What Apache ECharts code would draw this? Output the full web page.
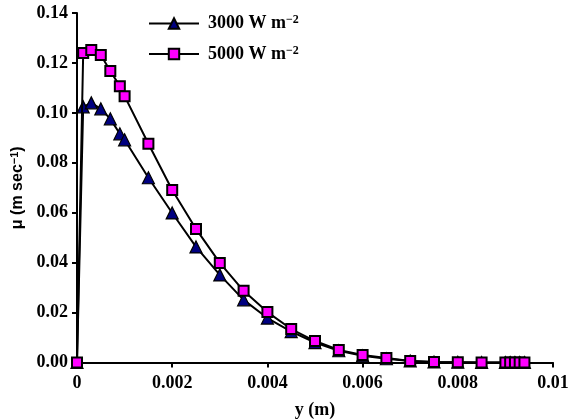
<!DOCTYPE html>
<html>
<head>
<meta charset="utf-8">
<script src="https://cdn.jsdelivr.net/npm/echarts@6/dist/echarts.min.js"></script>
<style>
html,body{margin:0;padding:0;background:#fff;}
#c{width:571px;height:420px;}
</style>
</head>
<body>
<div id="c"></div>
<script>
var xValues = [0, 0.00013, 0.0003, 0.0005, 0.0007, 0.0009, 0.001, 0.0015, 0.002, 0.0025, 0.003, 0.0035, 0.004, 0.0045, 0.005, 0.0055, 0.006, 0.0065, 0.007, 0.0075, 0.008, 0.0085, 0.009, 0.0091, 0.0092, 0.0093, 0.0094];
var mu3000 = [0, 0.1024, 0.1040, 0.1016, 0.0976, 0.0916, 0.0892, 0.0740, 0.0599, 0.0463, 0.0351, 0.0251, 0.0178, 0.0124, 0.0080, 0.0047, 0.0027, 0.0015, 0.0006, 0.0002, 0.0001, 0, 0, 0, 0, 0, 0];
var mu5000 = [0, 0.1240, 0.1252, 0.1232, 0.1168, 0.1107, 0.1067, 0.0876, 0.0691, 0.0535, 0.0399, 0.0287, 0.0202, 0.0134, 0.0086, 0.0050, 0.0030, 0.0018, 0.0006, 0.0002, 0.0001, 0, 0, 0, 0, 0, 0];
var seriesNames = ['3000 W m', '5000 W m'];
var supText = '\u22122';

function pairs(xs, ys) {
  return xs.map(function (x, i) { return [x, ys[i]]; });
}

var serif = 'Liberation Serif';
var chart = echarts.init(document.getElementById('c'), null, {renderer: 'canvas'});
chart.setOption({
  backgroundColor: '#fff',
  animation: false,
  grid: {left: 77, right: 18, top: 13, bottom: 57.5, containLabel: false, outerBoundsMode: 'none'},
  legend: {
    orient: 'vertical',
    left: 148,
    top: 14,
    padding: 0,
    itemWidth: 50,
    itemHeight: 13,
    itemGap: 12,
    textStyle: {
      rich: {
        a: {fontFamily: serif, fontWeight: 'bold', fontSize: 18, color: '#000', lineHeight: 19, padding: [0, 0, 0, 4]},
        s: {fontFamily: serif, fontWeight: 'bold', fontSize: 12, color: '#000', verticalAlign: 'top', lineHeight: 12}
      }
    },
    formatter: function (n) { return '{a|' + n + '}{s|' + supText + '}'; },
    data: seriesNames
  },
  xAxis: {
    type: 'value',
    min: 0, max: 0.01, interval: 0.002,
    name: 'y (m)',
    nameLocation: 'middle',
    nameGap: 39,
    nameTextStyle: {fontFamily: serif, fontWeight: 'bold', fontSize: 18, color: '#000'},
    axisLine: {show: true, onZero: false, lineStyle: {color: '#000', width: 2}},
    axisTick: {show: true, inside: false, length: 5, lineStyle: {color: '#000', width: 2}},
    axisLabel: {fontFamily: serif, fontWeight: 'bold', fontSize: 18, color: '#000', margin: 12},
    splitLine: {show: false}
  },
  yAxis: {
    type: 'value',
    min: 0, max: 0.14, interval: 0.02,
    name: '\u03bc (m sec{s|\u22121})',
    nameLocation: 'middle',
    nameGap: 45,
    nameRotate: 90,
    nameTextStyle: {
      fontFamily: 'Liberation Sans', fontWeight: 'bold', fontSize: 16, color: '#000',
      rich: {s: {fontFamily: 'Liberation Sans', fontWeight: 'bold', fontSize: 11, verticalAlign: 'top', lineHeight: 11}}
    },
    axisLine: {show: true, onZero: false, lineStyle: {color: '#000', width: 2}},
    axisTick: {show: true, inside: false, length: 5, lineStyle: {color: '#000', width: 2}},
    axisLabel: {fontFamily: serif, fontWeight: 'bold', fontSize: 18, color: '#000', margin: 9,
      formatter: function (v) { return v.toFixed(2); }},
    splitLine: {show: false}
  },
  series: [
    {
      name: seriesNames[0],
      type: 'line',
      data: pairs(xValues, mu3000),
      symbol: 'triangle',
      symbolSize: 12,
      showAllSymbol: true,
      lineStyle: {color: '#000', width: 2},
      itemStyle: {color: '#000080', borderColor: '#000', borderWidth: 1.2},
      z: 2
    },
    {
      name: seriesNames[1],
      type: 'line',
      data: pairs(xValues, mu5000),
      symbol: 'rect',
      symbolSize: 10,
      showAllSymbol: true,
      lineStyle: {color: '#000', width: 2},
      itemStyle: {color: '#ff00ff', borderColor: '#000', borderWidth: 2},
      z: 3
    }
  ]
});
</script>
</body>
</html>
